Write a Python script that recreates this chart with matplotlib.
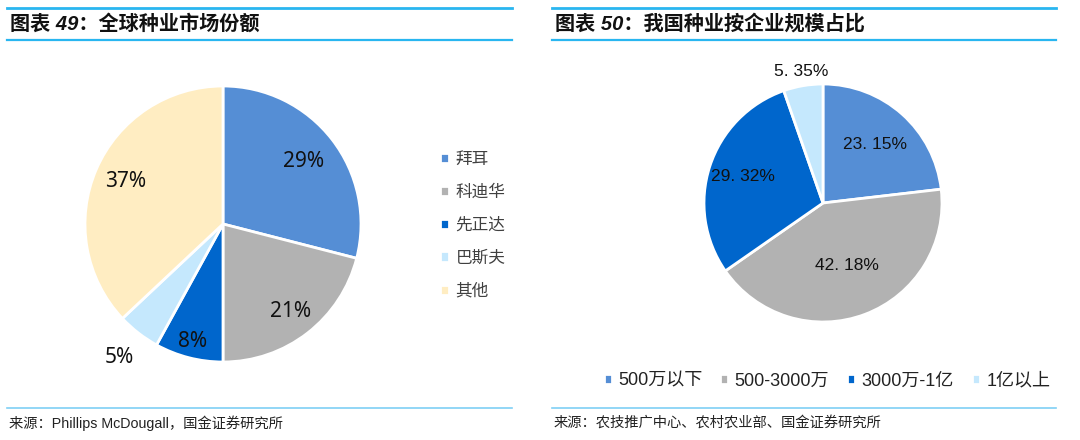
import matplotlib
matplotlib.use("Agg")
import math
import matplotlib.pyplot as plt
from matplotlib.lines import Line2D

plt.rcParams['font.family'] = ['Liberation Sans', 'Noto Sans CJK SC', 'DejaVu Sans']

# 图表49 全球种业市场份额
names1 = ['拜耳', '科迪华', '先正达', '巴斯夫', '其他']
share1 = [29, 21, 8, 5, 37]
colors1 = ['#558ED5', '#B2B2B2', '#0066CC', '#C5E8FD', '#FFEDC2']

# 图表50 我国种业按企业规模占比
names2 = ['500万以下', '500-3000万', '3000万-1亿', '1亿以上']
share2 = [23.15, 42.18, 29.32, 5.35]
labels2 = ['23. 15%', '42. 18%', '29. 32%', '5. 35%']
colors2 = ['#558ED5', '#B2B2B2', '#0066CC', '#C5E8FD']

W, H = 1080, 440
fig = plt.figure(figsize=(W / 100, H / 100), dpi=100)


def px_axes(cx, cy, r):
    return fig.add_axes([(cx - r) / W, (H - cy - r) / H, 2 * r / W, 2 * r / H])


def hline(x0, x1, y, lw, c):
    fig.add_artist(Line2D([x0 / W, x1 / W], [1 - y / H, 1 - y / H],
                          transform=fig.transFigure, lw=lw, color=c))


# 标题和分隔线
for x0, x1, title in [(7, 512, '图表 49：全球种业市场份额'),
                      (552, 1056, '图表 50：我国种业按企业规模占比')]:
    hline(x0, x1, 8, 2.0, '#29B6F0')
    hline(x0, x1, 40, 1.6, '#29B6F0')
    hline(x0, x1, 408, 1.2, '#7FD0F5')
    fig.text((x0 + 3) / W, 1 - 24 / H, title, fontsize=14.5, fontweight='bold',
             fontstyle='italic', va='center', ha='left', color='#111111')

fig.text(9 / W, 1 - 423 / H, '来源：Phillips McDougall，国金证券研究所',
         fontsize=10.3, va='center', ha='left', color='#222222')
fig.text(554 / W, 1 - 423 / H, '来源：农技推广中心、农村农业部、国金证券研究所',
         fontsize=10.3, va='center', ha='left', color='#222222')

# 左图
ax1 = px_axes(223, 224, 138)
wedges1, _ = ax1.pie(share1, colors=colors1, startangle=90, counterclock=False,
                     wedgeprops=dict(edgecolor='white', linewidth=2))
ax1.set_xlim(-1, 1)
ax1.set_ylim(-1, 1)
dist1 = [0.74, 0.80, 0.88, 1.22, 0.77]
start = 90.0
for v, d in zip(share1, dist1):
    mid = math.radians(start - v * 3.6 / 2)
    start -= v * 3.6
    ax1.text(d * math.cos(mid), d * math.sin(mid), f'{v}%', ha='center', va='center',
             fontsize=15, family=['Noto Sans', 'DejaVu Sans'], color='#111111')

ax1.legend(wedges1, names1, loc='upper left',
           bbox_to_anchor=(433 / W, 1 - 145 / H), bbox_transform=fig.transFigure,
           frameon=False, fontsize=12, labelcolor='#404040',
           handlelength=0.55, handleheight=0.55, handletextpad=0.4,
           labelspacing=1.05, borderaxespad=0)

# 右图
ax2 = px_axes(823, 203, 119)
wedges2, _ = ax2.pie(share2, colors=colors2, startangle=90, counterclock=False,
                     wedgeprops=dict(edgecolor='white', linewidth=2))
ax2.set_xlim(-1, 1)
ax2.set_ylim(-1, 1)
dist2 = [0.66, 0.56, 0.71, 1.12]
start = 90.0
for v, lab, d in zip(share2, labels2, dist2):
    mid = math.radians(start - v * 3.6 / 2)
    start -= v * 3.6
    ax2.text(d * math.cos(mid), d * math.sin(mid), lab, ha='center', va='center',
             fontsize=12.5, color='#111111')

ax2.legend(wedges2, names2, loc='center', ncol=4,
           bbox_to_anchor=(827 / W, 1 - 381 / H), bbox_transform=fig.transFigure,
           frameon=False, fontsize=13, labelcolor='#222222',
           handlelength=0.45, handleheight=0.45, handletextpad=0.35,
           columnspacing=1.0, borderaxespad=0)

fig.savefig('out.png', dpi=100)
